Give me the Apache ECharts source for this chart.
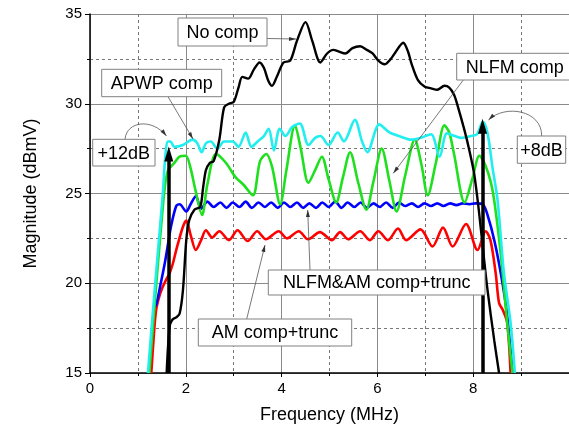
<!DOCTYPE html>
<html><head><meta charset="utf-8">
<script src="https://cdn.jsdelivr.net/npm/echarts@6/dist/echarts.min.js"></script>
<style>html,body{margin:0;padding:0;background:#fff}#c{width:569px;height:432px}</style>
</head><body><div id="c"></div>
<script>
// ---- data (frequency in MHz, magnitude in dBmV) ----
const xTicks = [0, 2, 4, 6, 8];
const yTicks = [15, 20, 25, 30, 35];

const noCompF = [1.60,1.63,1.67,1.73,1.80,1.87,1.94,2.01,2.07,2.18,2.30,2.36,2.42,2.50,2.58,2.70,2.80,2.90,3.00,3.10,3.18,3.30,3.42,3.54,3.63,3.72,3.80,3.90,4.04,4.18,4.32,4.50,4.64,4.81,4.95,5.08,5.20,5.33,5.48,5.64,5.78,5.90,6.02,6.15,6.28,6.36,6.54,6.64,6.71,6.85,6.99,7.12,7.25,7.40,7.50,7.60,7.68,7.82,7.92,8.02,8.12,8.22,8.30,8.44,8.54];
const noCompV = [15.0,16.5,17.7,18.0,18.1,18.3,19.6,22.4,23.5,24.1,24.25,25.3,26.3,26.7,26.8,28.0,29.8,30.0,30.1,30.9,31.5,31.4,31.9,32.3,32.0,31.3,31.0,31.5,32.3,32.4,33.5,34.55,33.5,32.3,32.8,33.0,32.9,32.8,33.1,33.2,33.0,32.8,32.4,32.2,32.5,32.8,33.4,32.9,32.25,31.3,30.95,30.86,30.78,31.0,30.9,30.5,29.84,28.5,27.4,26.1,24.0,21.5,19.6,16.8,15.0];

const apwpF = [1.21,1.30,1.40,1.52,1.57,1.62,1.68,1.76,1.94,2.14,2.24,2.33,2.42,2.52,2.66,2.80,2.98,3.10,3.25,3.37,3.50,3.63,3.73,3.84,3.96,4.08,4.22,4.38,4.56,4.70,4.81,4.98,5.17,5.30,5.53,5.68,5.79,6.04,6.25,6.45,6.71,6.90,7.12,7.30,7.45,7.62,7.75,7.95,8.08,8.20,8.30,8.40,8.51,8.64,8.78,8.87];
const apwpV = [15.0,18.0,21.2,25.0,27.0,27.9,27.9,27.6,27.7,28.0,27.8,27.3,27.8,27.9,27.5,27.9,27.9,27.6,28.4,27.6,27.9,28.2,28.6,27.4,28.6,28.2,28.7,28.9,27.7,28.1,28.2,27.7,28.4,27.9,29.1,27.9,27.3,28.85,28.4,28.2,28.0,28.1,28.3,27.05,28.35,28.2,28.1,28.2,28.3,29.0,28.35,26.5,24.6,20.6,17.8,15.0];

const nlfmF = [1.24,1.32,1.40,1.48,1.56,1.63,1.76,1.87,2.00,2.10,2.20,2.34,2.45,2.63,2.84,3.04,3.20,3.40,3.55,3.68,3.80,3.97,4.10,4.28,4.40,4.56,4.70,4.84,4.98,5.14,5.28,5.43,5.60,5.77,5.92,6.09,6.25,6.40,6.58,6.78,6.92,7.05,7.22,7.40,7.50,7.60,7.82,7.98,8.13,8.25,8.37,8.45,8.58,8.71,8.82];
const nlfmV = [15.0,17.8,20.5,23.0,25.3,26.3,26.7,27.05,27.1,26.4,25.2,23.8,25.5,27.2,26.7,25.9,25.5,24.9,26.8,27.2,26.5,24.4,26.3,28.8,27.5,25.6,26.3,27.05,25.8,24.5,25.9,27.3,25.6,24.1,25.7,27.5,25.7,24.0,26.0,28.0,26.6,24.9,26.7,28.8,28.4,27.2,24.5,25.8,27.1,26.6,25.6,24.4,21.5,17.8,15.0];

const nlfmAmF = [1.31,1.38,1.47,1.56,1.63,1.69,1.80,1.87,2.01,2.10,2.21,2.32,2.45,2.58,2.72,2.85,2.98,3.12,3.25,3.38,3.52,3.65,3.78,3.92,4.05,4.18,4.32,4.45,4.58,4.72,4.85,4.98,5.12,5.25,5.38,5.52,5.65,5.78,5.92,6.05,6.18,6.32,6.45,6.58,6.72,6.85,6.98,7.12,7.25,7.38,7.52,7.65,7.78,7.92,8.05,8.20,8.30,8.44,8.58,8.70,8.82];
const nlfmAmV = [18.6,18.8,19.9,21.1,22.2,23.15,24.3,24.4,24.0,24.4,24.85,24.15,24.55,24.25,24.5,24.2,24.5,24.25,24.55,24.2,24.5,24.25,24.5,24.2,24.5,24.25,24.5,24.2,24.45,24.2,24.5,24.25,24.55,24.2,24.5,24.25,24.5,24.2,24.45,24.25,24.5,24.2,24.5,24.3,24.45,24.25,24.45,24.3,24.45,24.3,24.45,24.35,24.45,24.4,24.45,24.4,23.8,22.4,20.5,18.4,15.0];

const amF = [1.28,1.33,1.38,1.45,1.52,1.59,1.66,1.73,1.80,1.94,2.01,2.10,2.21,2.32,2.42,2.55,2.70,2.90,3.08,3.29,3.49,3.67,3.94,4.11,4.36,4.55,4.80,5.05,5.22,5.39,5.64,5.84,6.02,6.22,6.43,6.60,6.90,7.15,7.37,7.57,7.85,8.09,8.26,8.36,8.47,8.54,8.62,8.71,8.78];
const amV = [15.0,17.0,18.5,19.3,19.8,20.2,20.55,21.1,21.85,23.15,23.5,22.7,21.85,22.4,22.95,22.55,22.9,22.4,22.95,22.35,22.9,22.45,22.9,22.5,22.9,22.45,22.85,22.4,22.85,22.45,22.9,22.4,22.9,22.4,23.05,22.4,23.0,22.05,23.1,22.05,23.3,21.85,22.9,22.4,20.55,18.9,18.5,17.8,15.0];

// gain arrows (+12dB, +8dB): [freq, from, to]
const gainArrowF = [1.645, 8.195];
const gainArrowFrom = [15, 15];
const gainArrowTo = [27.2, 28.75];

const names = ['AM comp+trunc','NLFM&AM comp+trunc','NLFM comp','APWP comp','No comp'];

function pairs(f, v) { return f.map((x, i) => [x, v[i]]); }

const FONT = 'Liberation Sans, Arial, sans-serif';
const chart = echarts.init(document.getElementById('c'), null, {renderer: 'canvas'});

function lineSeries(name, f, v, color, w) {
  return {
    name, type: 'line', data: pairs(f, v), showSymbol: false, smooth: 0.3,
    lineStyle: {color, width: w}, itemStyle: {color}, animation: false, silent: true
  };
}

const series = [
  lineSeries(names[0], amF, amV, '#ff0000', 2.6),
  lineSeries(names[1], nlfmAmF, nlfmAmV, '#0000ff', 2.6),
  lineSeries(names[2], nlfmF, nlfmV, '#1ee01e', 2.6),
  lineSeries(names[3], apwpF, apwpV, '#22eef0', 2.6),
  lineSeries(names[4], noCompF, noCompV, '#000000', 2.4),
  {
    type: 'line', data: [], silent: true, animation: false,
    markLine: {
      silent: true, animation: false,
      symbol: ['none', 'triangle'], symbolSize: [9, 15],
      label: {show: false},
      lineStyle: {color: '#000', width: 3.5, type: 'solid'},
      data: gainArrowF.map((f, i) => [{coord: [f, gainArrowFrom[i]]}, {coord: [f, gainArrowTo[i]]}])
    }
  }
];

// annotation graphics (pixel layout)
const g = [];
function box(x, y, w, h, text, align) {
  g.push({type: 'rect', shape: {x, y, width: w, height: h}, style: {fill: '#fff', stroke: '#808080', lineWidth: 1}, z: 100});
  g.push({type: 'text', x: align === 'left' ? x + 9 : x + w / 2, y: y + h / 2 + 1,
    style: {text, font: '18px ' + FONT, fill: '#000', textAlign: align || 'center', textVerticalAlign: 'middle'}, z: 101});
}
function head(x1, y1, x2, y2) {
  const a = Math.atan2(y2 - y1, x2 - x1), len = 7, w = 4;
  const bx = x2 - len * Math.cos(a), by = y2 - len * Math.sin(a);
  const px = -Math.sin(a) * w / 2, py = Math.cos(a) * w / 2;
  g.push({type: 'polygon', shape: {points: [[x2, y2], [bx + px, by + py], [bx - px, by - py]]}, style: {fill: '#333'}, z: 99});
}
function arrow(x1, y1, x2, y2) {
  g.push({type: 'line', shape: {x1, y1, x2, y2}, style: {stroke: '#555', lineWidth: 0.8}, z: 99});
  head(x1, y1, x2, y2);
}
function curved(x1, y1, c1x, c1y, c2x, c2y, x2, y2) {
  g.push({type: 'bezierCurve', shape: {x1, y1, cpx1: c1x, cpy1: c1y, cpx2: c2x, cpy2: c2y, x2, y2}, style: {stroke: '#555', lineWidth: 0.8, fill: null}, z: 99});
  head(c2x, c2y, x2, y2);
}

arrow(267, 38.5, 296, 39);
arrow(168, 96.7, 193, 139);
curved(125, 139, 127, 121, 152, 118, 166.5, 136);
arrow(463.3, 80, 393.3, 173.3);
curved(541.7, 136, 542, 110, 505, 104, 488.5, 120);
arrow(310, 270, 307.7, 210);
arrow(246.7, 319, 265, 245);

box(178, 18, 89, 28, 'No comp');
box(101.7, 69.3, 120, 27.4, 'APWP comp');
box(92.7, 139.3, 62.3, 26.7, '+12dB');
box(456.7, 53.3, 120, 26.7, 'NLFM comp', 'left');
box(517.3, 136, 48.4, 27.3, '+8dB');
box(268.3, 270, 216.7, 25, 'NLFM&AM comp+trunc');
box(198.3, 319, 153.4, 27, 'AM comp+trunc');

chart.setOption({
  animation: false,
  backgroundColor: '#fff',
  textStyle: {fontFamily: FONT},
  grid: {left: 90, right: -3, top: 14, bottom: 59, containLabel: false},
  xAxis: {
    type: 'value', min: 0, max: 10, interval: 2,
    name: 'Frequency (MHz)', nameLocation: 'middle', nameGap: 33,
    nameTextStyle: {fontSize: 18, color: '#000', fontFamily: FONT},
    axisLine: {show: true, onZero: false, lineStyle: {color: '#000', width: 1.5}},
    axisTick: {show: true, inside: false, length: 4, lineStyle: {color: '#000'}},
    minorTick: {show: true, splitNumber: 2, length: 3, lineStyle: {color: '#000'}},
    axisLabel: {fontSize: 15, color: '#000', fontFamily: FONT, margin: 8, showMaxLabel: false,
      formatter: v => xTicks.includes(v) ? String(v) : ''},
    splitLine: {show: true, lineStyle: {color: '#8a8a8a', width: 1}},
    minorSplitLine: {show: true, lineStyle: {color: '#777', width: 1, type: [3, 3]}}
  },
  yAxis: {
    type: 'value', min: 15, max: 35, interval: 5,
    name: 'Magnitude (dBmV)', nameLocation: 'middle', nameGap: 50, nameRotate: 90,
    nameTextStyle: {fontSize: 18, color: '#000', fontFamily: FONT},
    axisLine: {show: true, lineStyle: {color: '#000', width: 1.5}},
    axisTick: {show: true, inside: false, length: 5, lineStyle: {color: '#000'}},
    minorTick: {show: true, splitNumber: 2, length: 3, lineStyle: {color: '#000'}},
    axisLabel: {fontSize: 15, color: '#000', fontFamily: FONT, margin: 8,
      formatter: v => yTicks.includes(v) ? String(v) : ''},
    splitLine: {show: true, lineStyle: {color: '#8a8a8a', width: 1}},
    minorSplitLine: {show: true, lineStyle: {color: '#777', width: 1, type: [3, 3]}}
  },
  series,
  graphic: g
});
</script>
</body></html>
